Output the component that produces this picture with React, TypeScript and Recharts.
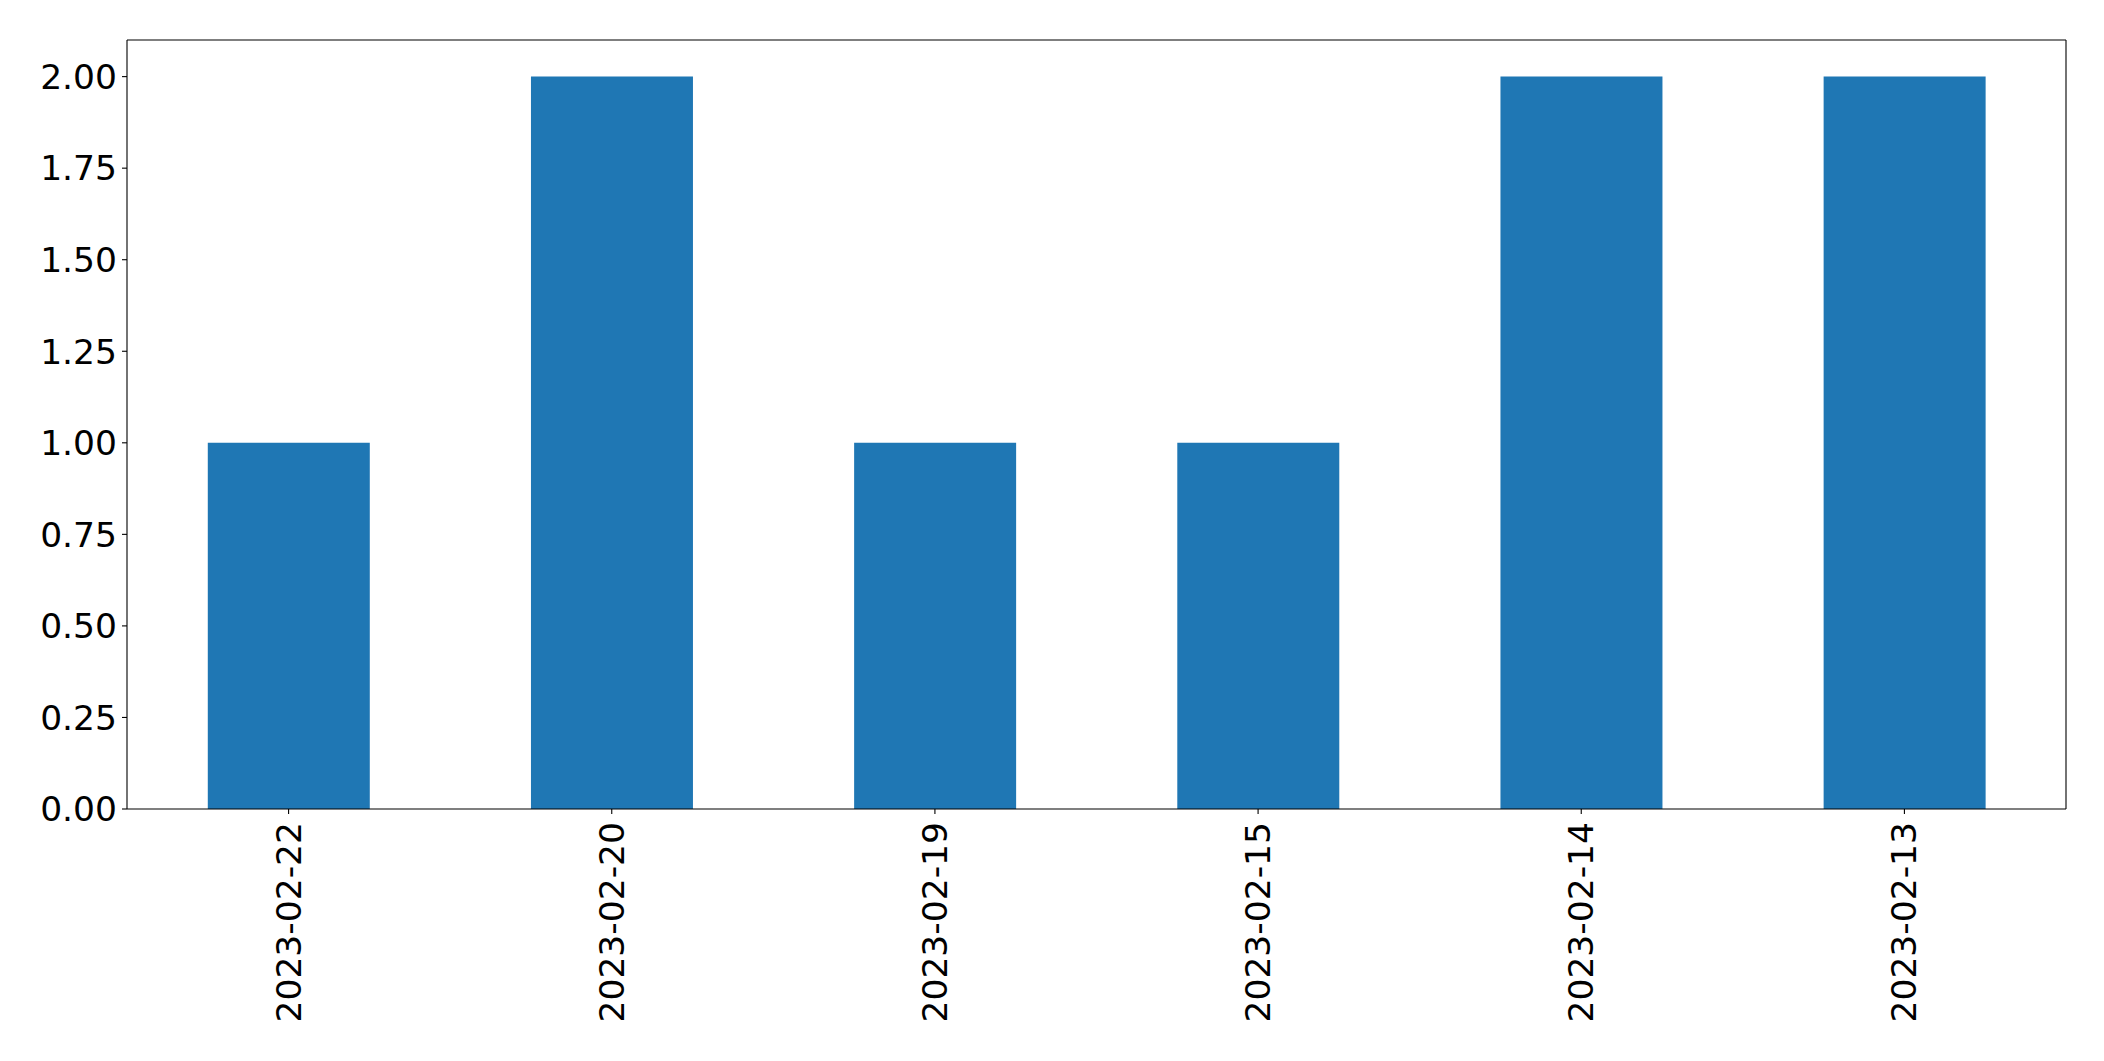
import React from 'react';
import { BarChart, Bar, XAxis, YAxis, CartesianGrid } from 'recharts';

const dates = ['2023-02-22', '2023-02-20', '2023-02-19', '2023-02-15', '2023-02-14', '2023-02-13'];
const counts = [1, 2, 1, 1, 2, 2];
const yTicks = [0, 0.25, 0.5, 0.75, 1, 1.25, 1.5, 1.75, 2];

const data = dates.map((d, i) => ({ date: d, count: counts[i] }));

const font = "'DejaVu Sans', sans-serif";
const fontSize = 34.5;

const DateTick = (props: any) => {
    const { x, y, payload } = props;
    return (
        <text
            transform={`translate(${x},${y + 8}) rotate(-90)`}
            textAnchor="end"
            dominantBaseline="central"
            fontSize={fontSize}
            fontFamily={font}
            fill="#000"
        >
            {payload.value}
        </text>
    );
};

// top and right edges of the plot frame
const topEdge = ({ offset }: any) => [offset.top];
const rightEdge = ({ offset }: any) => [offset.left + offset.width];

const App = () => {
    return (
        <div style={{ position: 'absolute', left: 0, top: 0, width: 2104, height: 1061, background: 'white' }}>
            <BarChart
                width={2104}
                height={1061}
                data={data}
                margin={{ top: 40, right: 38, left: 0, bottom: 0 }}
                barCategoryGap="25%"
            >
                <CartesianGrid
                    stroke="#000"
                    strokeWidth={1.1}
                    horizontalCoordinatesGenerator={topEdge}
                    verticalCoordinatesGenerator={rightEdge}
                />
                <XAxis
                    dataKey="date"
                    height={252}
                    interval={0}
                    tick={<DateTick />}
                    tickSize={5}
                    tickMargin={0}
                    axisLine={{ stroke: '#000', strokeWidth: 1.1 }}
                    tickLine={{ stroke: '#000', strokeWidth: 1.1 }}
                />
                <YAxis
                    width={127}
                    domain={[0, 2.1]}
                    ticks={yTicks}
                    interval={0}
                    tickFormatter={(v: number) => v.toFixed(2)}
                    tick={{ fontSize: fontSize, fontFamily: font, fill: '#000' }}
                    tickSize={5}
                    tickMargin={5}
                    axisLine={{ stroke: '#000', strokeWidth: 1.1 }}
                    tickLine={{ stroke: '#000', strokeWidth: 1.1 }}
                />
                <Bar dataKey="count" fill="#1f77b4" isAnimationActive={false} />
            </BarChart>
        </div>
    );
};

export default App;
